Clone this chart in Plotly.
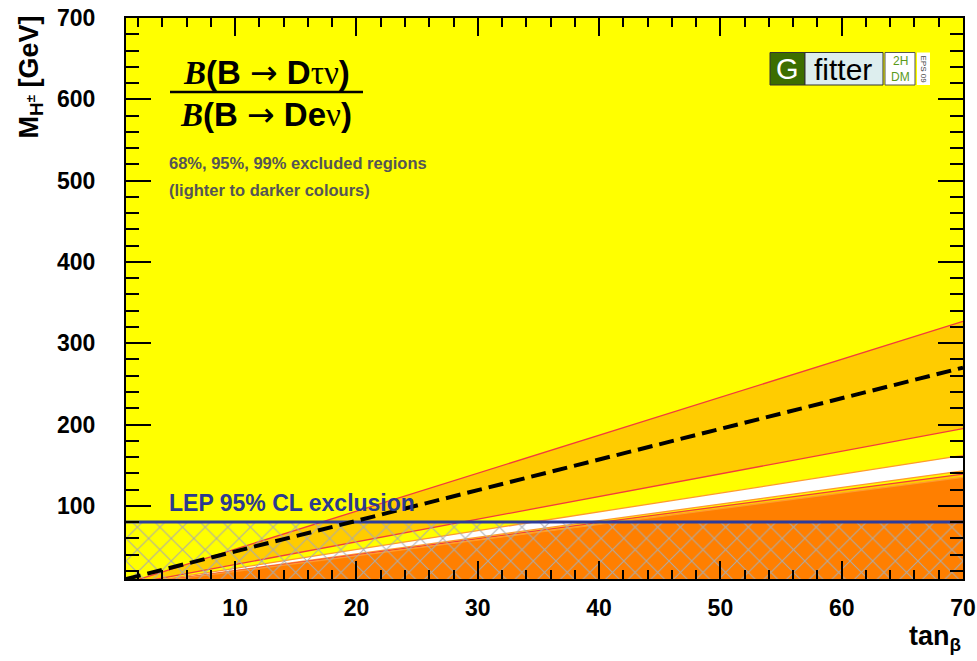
import plotly.graph_objects as go

# ---------------- data ----------------
tanb_edge = [0, 70]                 # contour lines run from the origin to tan(beta)=70
upper95_top = [0, 327]              # upper edge of the upper 95% band (M_H+ at tanb=70)
upper95_bot = [0, 195]              # lower edge of the upper 95% band
upper68_bot = [0, 162]              # upper edge of the allowed (white) band
lower68_top = [0, 143]              # lower edge of the allowed (white) band
lower95_top = [0, 139]              # upper edge of the thin lower 95% band
lower99_top = [0, 135]              # upper edge of the 99% region
floor_m = [0, 0]
dashed_tanb = [1, 70]
dashed_m = [10, 270]
lep_limit = 80

x_range = [1, 70]
y_range = [10, 700]

YELLOW = "#FFFF00"
LORANGE = "#FFCC00"
DORANGE = "#FF7F00"
RED = "#F23C3C"
ORANGE_LINE = "#FF9A2E"
BLUE = "#2D3C9B"

fig = go.Figure()

def band(lo, hi, color):
    fig.add_trace(go.Scatter(
        x=tanb_edge + tanb_edge[::-1], y=hi + lo[::-1], mode="lines",
        fill="toself", fillcolor=color, line=dict(width=0), hoverinfo="skip"))

band(upper95_bot, upper95_top, LORANGE)
band(lower68_top, upper68_bot, "#FFFFFF")
band(lower99_top, lower95_top, LORANGE)
band(floor_m, lower99_top, DORANGE)

for m, c in [(upper95_top, RED), (upper95_bot, RED), (upper68_bot, ORANGE_LINE),
             (lower68_top, ORANGE_LINE), (lower95_top, RED), (lower99_top, ORANGE_LINE)]:
    fig.add_trace(go.Scatter(x=tanb_edge, y=m, mode="lines",
                             line=dict(color=c, width=1.3), hoverinfo="skip"))

# LEP excluded region (hatched)
fig.add_trace(go.Scatter(
    x=tanb_edge + tanb_edge[::-1], y=floor_m + [lep_limit, lep_limit], mode="lines",
    fill="toself", fillcolor="rgba(0,0,0,0)", line=dict(width=0),
    fillpattern=dict(shape="x", size=16, solidity=0.12, fgcolor="#ABABAB",
                     bgcolor="rgba(0,0,0,0)", fillmode="replace"),
    hoverinfo="skip"))

fig.add_trace(go.Scatter(x=tanb_edge, y=[lep_limit, lep_limit], mode="lines",
                         line=dict(color=BLUE, width=3), hoverinfo="skip"))

fig.add_trace(go.Scatter(x=dashed_tanb, y=dashed_m, mode="lines",
                         line=dict(color="black", width=4, dash="15px,7px"),
                         hoverinfo="skip"))

# ---------------- layout ----------------
L, R, T, B = 126, 14, 18, 82
W, H = 977, 661
PW, PH = W - L - R, H - T - B

def px(xp):
    return (xp - L) / PW

def py(yp):
    return (H - B - yp) / PH

axis_common = dict(showline=True, linecolor="black", linewidth=2, mirror="ticks",
                   ticks="inside", tickcolor="black", tickwidth=1.5,
                   showgrid=False, zeroline=False, automargin=False,
                   tickfont=dict(family="Liberation Sans", size=23, color="black",
                                 weight="bold"))

fig.update_xaxes(range=x_range, tick0=0, dtick=10, ticklen=18,
                 minor=dict(dtick=2, ticklen=9, ticks="inside", tickcolor="black",
                            tickwidth=1.5),
                 ticklabelstandoff=7, **axis_common)
fig.update_yaxes(range=y_range, tick0=0, dtick=100, ticklen=25,
                 minor=dict(dtick=20, ticklen=13, ticks="inside", tickcolor="black",
                            tickwidth=1.5),
                 ticklabelstandoff=24, **axis_common)

ann = []
ann.append(dict(text="<b>LEP 95% CL exclusion</b>", x=px(167), y=py(503),
                xanchor="left", yanchor="middle",
                font=dict(family="Liberation Sans", size=23, color="#2B3A8F")))

def ratio_part(mid):
    return ('<span style="font-family:Liberation Serif"><b><i>B</i></b></span>'
            '<b>(B </b><span style="font-family:DejaVu Sans">→</span><b> D</b>'
            + mid + '<b>)</b>')

ann.append(dict(text=ratio_part('<span style="font-family:Liberation Serif">τν</span>'),
                x=px(266), y=py(72), xanchor="center", yanchor="middle",
                font=dict(family="Liberation Sans", size=33, color="black")))
ann.append(dict(text=ratio_part('<b>e</b><span style="font-family:Liberation Serif">ν</span>'),
                x=px(266), y=py(114), xanchor="center", yanchor="middle",
                font=dict(family="Liberation Sans", size=33, color="black")))
ann.append(dict(text="<b>68%, 95%, 99% excluded regions</b>", x=px(167), y=py(163),
                xanchor="left", yanchor="middle",
                font=dict(family="Liberation Sans", size=16.5, color="#555555")))
ann.append(dict(text="<b>(lighter to darker colours)</b>", x=px(167), y=py(190),
                xanchor="left", yanchor="middle",
                font=dict(family="Liberation Sans", size=16.5, color="#555555")))
ann.append(dict(text="<b>M<sub>H<sup>±</sup></sub> [GeV]</b>", x=px(30), y=py(14),
                xanchor="center", yanchor="top", textangle=-90,
                font=dict(family="Liberation Sans", size=27, color="black")))
ann.append(dict(text="<b>tan<sub>β</sub></b>", x=px(963), y=py(638),
                xanchor="right", yanchor="middle",
                font=dict(family="Liberation Sans", size=27, color="black")))
# logo
ann.append(dict(text="G", x=px(787.5), y=py(69), xanchor="center", yanchor="middle",
                font=dict(family="Liberation Sans", size=29, color="white")))
ann.append(dict(text="fitter", x=px(843), y=py(69), xanchor="center", yanchor="middle",
                font=dict(family="Liberation Sans", size=30, color="black")))
ann.append(dict(text="2H", x=px(900), y=py(61), xanchor="center", yanchor="middle",
                font=dict(family="Liberation Sans", size=12, color="#5A9A1A")))
ann.append(dict(text="DM", x=px(900), y=py(77), xanchor="center", yanchor="middle",
                font=dict(family="Liberation Sans", size=12, color="#5A9A1A")))
ann.append(dict(text="EPS 09", x=px(923.5), y=py(69), xanchor="center", yanchor="middle",
                textangle=90,
                font=dict(family="Liberation Sans", size=8, color="#444444")))
for a in ann:
    a.update(xref="paper", yref="paper", showarrow=False)

shapes = [
    dict(type="line", x0=px(170), x1=px(363), y0=py(92), y1=py(92),
         line=dict(color="black", width=2.5)),
    dict(type="rect", x0=px(770), x1=px(805), y0=py(85), y1=py(52.5),
         fillcolor="#3C6E00", line=dict(color="#333333", width=1)),
    dict(type="rect", x0=px(805), x1=px(883), y0=py(85), y1=py(52.5),
         fillcolor="#DDEEEE", line=dict(color="#333333", width=1)),
    dict(type="rect", x0=px(885), x1=px(915), y0=py(85), y1=py(52.5),
         fillcolor="white", line=dict(color="#555555", width=1)),
    dict(type="rect", x0=px(917), x1=px(930), y0=py(85), y1=py(52.5),
         fillcolor="white", line=dict(width=0)),
]
for s in shapes:
    s.update(xref="paper", yref="paper")

fig.update_layout(width=W, height=H, margin=dict(l=L, r=R, t=T, b=B, autoexpand=False),
                  plot_bgcolor=YELLOW, paper_bgcolor="white", showlegend=False,
                  annotations=ann, shapes=shapes)

fig.write_html("out.html", config={"displayModeBar": False},
               post_script="document.body.style.margin='0px';")
